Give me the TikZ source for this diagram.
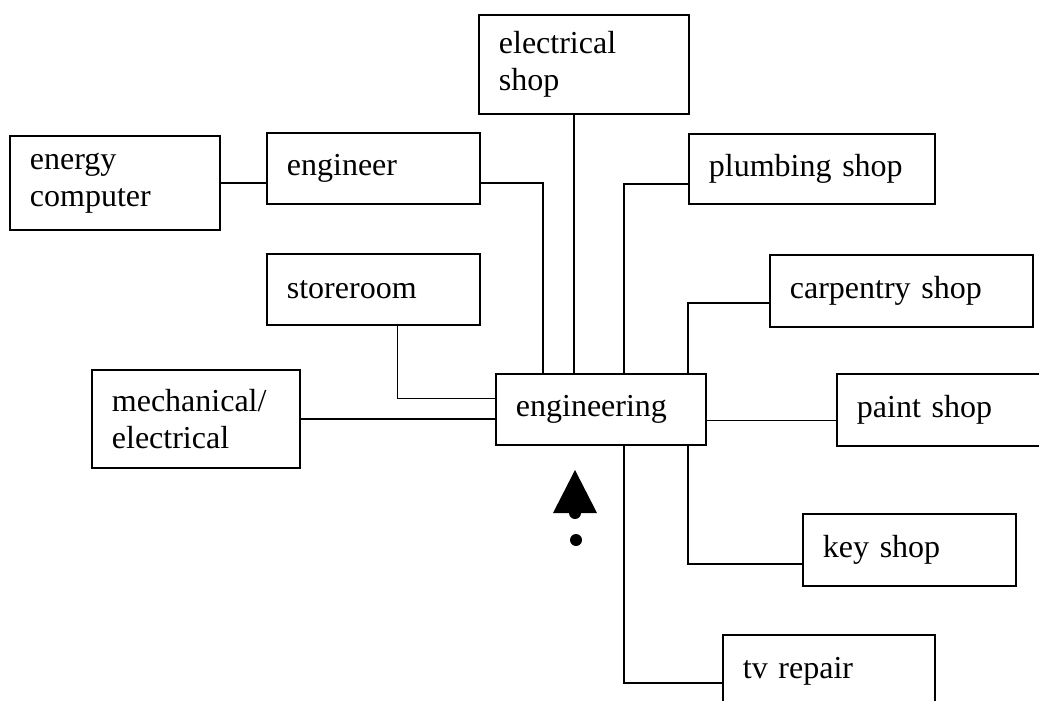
\documentclass[tikz,border=0pt]{standalone}
\usepackage{fontspec}
\setmainfont{Liberation Serif}
\usepackage{tikz}

\tikzset{
  unit/.style={draw, line width=1.8pt, anchor=north west, align=left,
    inner xsep=20pt, inner ysep=0pt, font=\fontsize{32}{37}\selectfont},
  link/.style={line width=1.5pt},
}

\begin{document}
\begin{tikzpicture}[x=1pt,y=-1pt]
  \path[use as bounding box] (0,0) rectangle (1039,701);
  \clip (0,0) rectangle (1039,701);
  % Bokser
  \node[unit, text width=170pt, minimum height=99pt] (elec) at (478,14) {electrical\\shop};
  \node[unit, text width=170pt, minimum height=94pt] (energy) at (9,135) {energy\\computer};
  \node[unit, text width=173pt, minimum height=71pt] (engineer) at (266,132) {engineer};
  \node[unit, text width=206pt, minimum height=70pt] (plumb) at (688,133) {plumbing shop};
  \node[unit, text width=173pt, minimum height=71pt] (store) at (266,253) {storeroom};
  \node[unit, text width=223pt, minimum height=72pt] (carp) at (769,254) {carpentry shop};
  \node[unit, text width=168pt, minimum height=98pt] (mech) at (91,369) {mechanical/\\electrical};
  \node[unit, text width=170pt, minimum height=71pt] (eng) at (495,373) {engineering};
  \node[unit, text width=184pt, minimum height=72pt] (paint) at (836,373) {paint shop};
  \node[unit, text width=173pt, minimum height=72pt] (key) at (802,513) {key shop};
  \node[unit, text width=172pt, minimum height=72pt] (tv) at (722,634) {tv repair};
  % Linjer
  \draw[link] (energy.east) -- (energy.east -| engineer.west);
  \draw[link] (energy.east -| engineer.east) -| ([xshift=48pt]eng.north west);
  \draw[link] ([xshift=96pt]elec.south west) -- ([xshift=79pt]eng.north west);
  \draw[link] ([yshift=-15pt]plumb.west) -| ([xshift=129pt]eng.north west);
  \draw[link] ([yshift=-12pt]carp.west) -| ([xshift=193pt]eng.north west);
  \draw[link] ([xshift=24pt]store.south) |- ([yshift=11pt]eng.west);
  \draw[link] (mech.east) -- (mech.east -| eng.west);
  \draw[link] ([yshift=-11pt]eng.east) -- ([yshift=-11pt]eng.east -| paint.west);
  \draw[link] ([xshift=193pt]eng.south west) |- ([yshift=-14pt]key.west);
  \draw[link] ([xshift=129pt]eng.south west) |- ([yshift=-12pt]tv.west);
  % Pil med punkt
  \fill (575,470) -- (597,513) -- (553,513) -- cycle;
  \fill (575,513) circle (6);
  \fill (576,540) circle (6);
\end{tikzpicture}
\end{document}
